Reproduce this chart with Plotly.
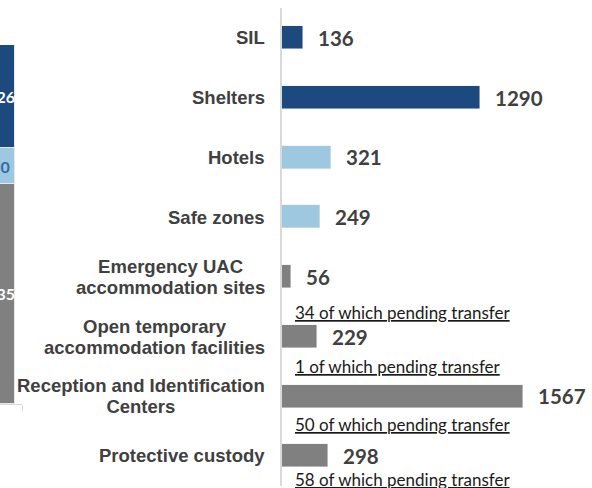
import plotly.graph_objects as go

# ---- data ----
categories = ["SIL", "Shelters", "Hotels", "Safe zones",
              "Emergency UAC<br>accommodation sites",
              "Open temporary<br>accommodation facilities",
              "Reception and Identification<br>Centers",
              "Protective custody"]
values = [136, 1290, 321, 249, 56, 229, 1567, 298]
groups = ["dark", "dark", "light", "light", "gray", "gray", "gray", "gray"]
pending = [None, None, None, None, 34, 1, 50, 58]

stack_names = ["gray", "light", "dark"]
stack_values = [3035, 490, 1426]

# ---- style ----
colors = {"dark": "#1C4A7E", "light": "#9DC8E0", "gray": "#808080"}
stack_text_colors = {"dark": "white", "light": "#2E6DA4", "gray": "white"}
W, H = 592, 488

def px_x(p):
    return p / W

def px_y(p):
    return 1 - p / H

fig = go.Figure()

annotations = []
# left cut-off stacked bar
base = 0
for name, v in zip(stack_names, stack_values):
    fig.add_trace(go.Bar(
        x=[0], y=[v], width=[1.4], xaxis="x2", yaxis="y2",
        marker=dict(color=colors[name], line=dict(color="#E8E8E8", width=1)),
        showlegend=False, hoverinfo="skip"))
    annotations.append(dict(
        x=0, xref="x2", y=base + v / 2, yref="y2", xanchor="center", xshift=-4,
        text="<b>" + str(v) + "</b>", showarrow=False,
        font=dict(family="Lato", size=16, color=stack_text_colors[name])))
    base += v

# main horizontal bars
n = len(categories)
idx = list(range(n))
fig.add_trace(go.Bar(
    x=values, y=idx, orientation="h", width=0.385,
    marker=dict(color=[colors[g] for g in groups]),
    showlegend=False, hoverinfo="skip"))

for i, (c, v) in enumerate(zip(categories, values)):
    lines = c.split("<br>")
    label = "<br>".join("<span style='font-size:18.5px'><b>%s</b></span>" % ln
                        for ln in lines)
    annotations.append(dict(
        x=0, xref="x", y=i, yref="y", xanchor="right", xshift=-15,
        text=label, showarrow=False, align="center",
        font=dict(family="Liberation Sans", size=16.5, color="#404040")))
    annotations.append(dict(
        x=v, xref="x", y=i, yref="y", xanchor="left", xshift=13,
        text="<b>" + str(v) + "</b>", showarrow=False,
        font=dict(family="Lato", size=20.5, color="#404040")))

note_dy = [0, 0, 0, 0, 0.59, 0.5, 0.47, 0.4]
for i, p in enumerate(pending):
    if p is None:
        continue
    annotations.append(dict(
        x=0, xref="x", y=i + note_dy[i], yref="y", xanchor="left", xshift=11,
        text="<u>%d of which pending transfer</u>" % p, showarrow=False,
        font=dict(family="Lato", size=17, color="#1A1A1A")))

total = sum(stack_values)
fig.update_layout(
    width=W, height=H, margin=dict(l=0, r=0, t=0, b=0),
    paper_bgcolor="white", plot_bgcolor="white",
    barmode="stack", bargap=0,
    xaxis=dict(domain=[px_x(282), 1], range=[0, 310 / 0.1535],
               showgrid=False, zeroline=False, showticklabels=False,
               showline=False),
    yaxis=dict(domain=[px_y(485.75), px_y(8.15)], range=[n - 0.5, -0.5],
               showgrid=False, zeroline=False, showticklabels=False,
               showline=True, linecolor="#D9D9D9", linewidth=2,
               anchor="x", position=px_x(282)),
    xaxis2=dict(domain=[0, px_x(22)], range=[0, 1], anchor="y2",
                showgrid=False, zeroline=False, showticklabels=False,
                showline=True, linecolor="#D9D9D9", linewidth=1,
                ticks="outside", tickvals=[1], ticklen=6, tickcolor="#D9D9D9"),
    yaxis2=dict(domain=[px_y(404), px_y(45)], range=[0, total], anchor="x2",
                showgrid=False, zeroline=False, showticklabels=False,
                showline=False),
    annotations=annotations,
)

fig.write_html("out.html", config={"displayModeBar": False},
               post_script="document.body.style.margin='0';")
